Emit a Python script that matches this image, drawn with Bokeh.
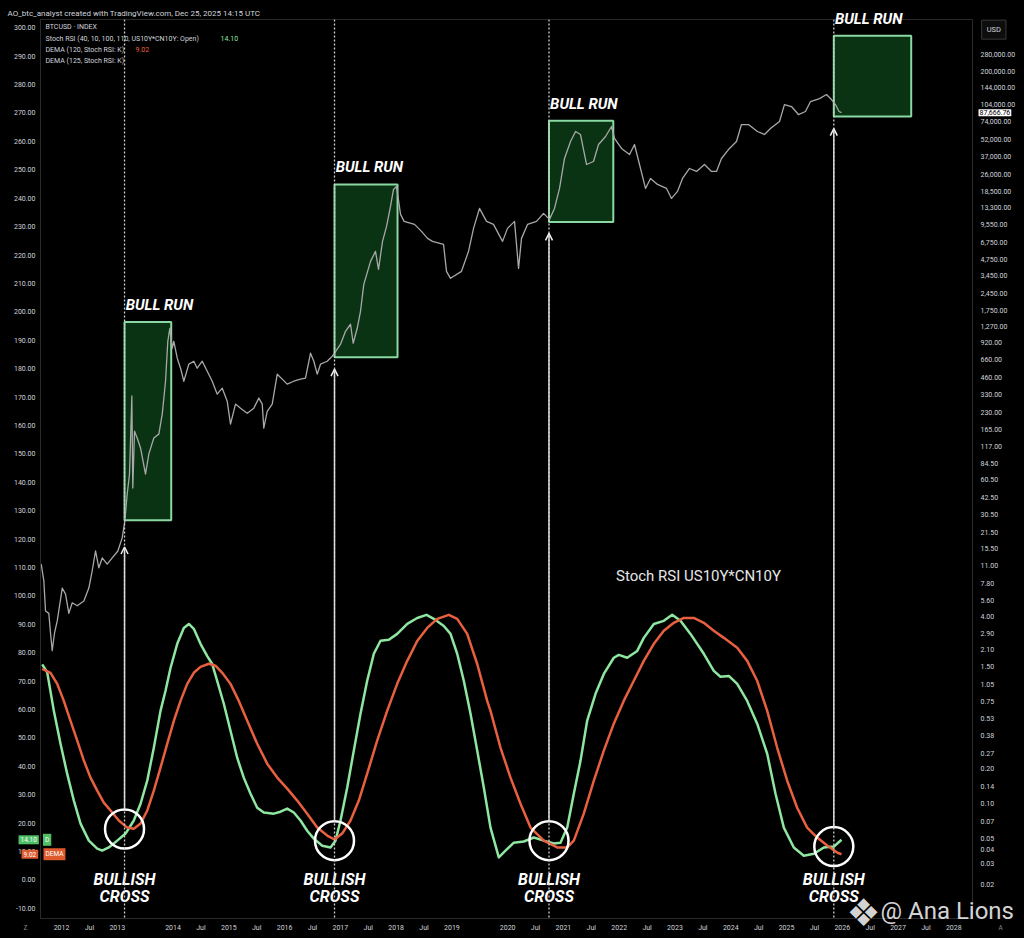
from bokeh.plotting import figure
from bokeh.models import (Range1d, LogScale, LogAxis, FixedTicker, NumeralTickFormatter,
                          Span, Label, Arrow, OpenHead)
from bokeh.core.properties import value
from bokeh.embed import file_html
from bokeh.resources import INLINE

FONT = "Roboto"
TXT = "#d1d4dc"

# ---------------- data ----------------
btc_years = [
    2011.636, 2011.683, 2011.713, 2011.772, 2011.803, 2011.833, 2011.874, 2011.923, 2012.013, 2012.072,
    2012.131, 2012.192, 2012.282, 2012.400, 2012.490, 2012.550, 2012.610, 2012.669, 2012.730, 2012.819,
    2012.909, 2013.010, 2013.088, 2013.135, 2013.178, 2013.219, 2013.237, 2013.261, 2013.278, 2013.309,
    2013.357, 2013.417, 2013.506, 2013.565, 2013.655, 2013.745, 2013.806, 2013.865, 2013.906, 2013.942,
    2013.985, 2014.014, 2014.075, 2014.134, 2014.193, 2014.283, 2014.372, 2014.433, 2014.523, 2014.613,
    2014.702, 2014.792, 2014.882, 2014.971, 2015.030, 2015.120, 2015.210, 2015.330, 2015.448, 2015.538,
    2015.599, 2015.627, 2015.688, 2015.778, 2015.868, 2015.957, 2016.047, 2016.165, 2016.285, 2016.375,
    2016.465, 2016.524, 2016.585, 2016.644, 2016.764, 2016.854, 2016.895, 2017.003, 2017.092, 2017.182,
    2017.230, 2017.302, 2017.361, 2017.420, 2017.541, 2017.630, 2017.684, 2017.756, 2017.828, 2017.899,
    2017.953, 2018.007, 2018.079, 2018.143, 2018.330, 2018.455, 2018.563, 2018.652, 2018.850, 2018.903,
    2018.975, 2019.172, 2019.298, 2019.388, 2019.495, 2019.621, 2019.746, 2019.908, 2019.997, 2020.123,
    2020.195, 2020.248, 2020.356, 2020.518, 2020.643, 2020.750, 2020.840, 2020.930, 2021.019, 2021.127,
    2021.217, 2021.306, 2021.414, 2021.539, 2021.629, 2021.755, 2021.862, 2021.916, 2022.041, 2022.185,
    2022.274, 2022.364, 2022.472, 2022.561, 2022.687, 2022.848, 2022.938, 2023.045, 2023.135, 2023.260,
    2023.386, 2023.529, 2023.655, 2023.744, 2023.834, 2023.977, 2024.103, 2024.192, 2024.318, 2024.479,
    2024.605, 2024.712, 2024.874, 2024.963, 2025.089, 2025.214, 2025.340, 2025.430, 2025.591, 2025.717,
    2025.806, 2025.878, 2025.941, 2025.986,
]
btc_prices = [
    11.4, 8.2, 4.5, 4.3, 2.9, 2.05, 2.9, 3.7, 7.1, 6.3,
    4.3, 5.3, 5.0, 5.5, 7.1, 10.0, 14.8, 10.6, 12.9, 11.4,
    12.9, 14.8, 19.2, 26.8, 45.8, 68, 131, 320, 51.5, 159,
    139, 114, 68, 101, 139, 150, 223, 428, 945, 1222,
    823, 945, 675, 554, 428, 600, 636, 554, 636, 522,
    428, 331, 373, 288, 183, 272, 251, 227, 251, 306,
    272, 169, 236, 272, 492, 446, 404, 428, 446, 455,
    746, 636, 492, 600, 636, 703, 746, 891, 1152, 1324,
    909, 1222, 1712, 2921, 4606, 5615, 3932, 6843, 9210, 13680,
    19160, 20330, 11680, 10170, 9580, 8343, 7262, 6843, 6450, 3779,
    3290, 3779, 5615, 8851, 13150, 10170, 9580, 6843, 8851, 10170,
    4011, 7262, 9580, 10170, 11910, 10580, 13150, 19540, 35380, 49550,
    60390, 56890, 31410, 33340, 46670, 54700, 66680, 52570, 43150, 38290,
    46670, 31410, 19540, 23820, 21140, 19540, 16030, 18420, 23820, 29020,
    27350, 31410, 27350, 27350, 35380, 43150, 49550, 69340, 69340, 60390,
    56890, 64120, 73620, 103000, 99050, 84530, 89770, 109400, 116000, 125600,
    113700, 103000, 89770, 87666.76,
]
btc_last = 87666.76

k_years = [
    2011.654, 2011.744, 2011.862, 2011.982, 2012.102, 2012.221, 2012.341, 2012.490, 2012.640, 2012.730,
    2012.848, 2012.999, 2013.148, 2013.296, 2013.417, 2013.537, 2013.655, 2013.775, 2013.865, 2013.954,
    2014.075, 2014.193, 2014.283, 2014.372, 2014.492, 2014.613, 2014.702, 2014.792, 2014.910, 2015.030,
    2015.150, 2015.269, 2015.389, 2015.509, 2015.627, 2015.807, 2015.927, 2016.047, 2016.165, 2016.285,
    2016.405, 2016.524, 2016.675, 2016.823, 2016.913, 2017.003, 2017.123, 2017.241, 2017.361, 2017.481,
    2017.600, 2017.720, 2017.869, 2018.019, 2018.199, 2018.378, 2018.545, 2018.676, 2018.855, 2018.975,
    2019.095, 2019.213, 2019.334, 2019.454, 2019.572, 2019.692, 2019.841, 2019.961, 2020.110, 2020.289,
    2020.469, 2020.648, 2020.827, 2020.947, 2021.068, 2021.186, 2021.306, 2021.426, 2021.575, 2021.724,
    2021.903, 2021.993, 2022.143, 2022.323, 2022.441, 2022.621, 2022.800, 2022.950, 2023.099, 2023.278,
    2023.517, 2023.696, 2023.816, 2023.965, 2024.116, 2024.295, 2024.474, 2024.654, 2024.803, 2024.952,
    2025.131, 2025.310, 2025.490, 2025.669, 2025.849, 2025.986,
]
k_values = [
    75.9, 73.0, 59.5, 47.9, 37.3, 27.9, 19.8, 13.8, 11.0, 10.3,
    11.4, 13.8, 16.3, 20.9, 26.8, 34.9, 46.5, 59.5, 66.6, 74.6,
    83.1, 88.7, 90.1, 88.4, 83.1, 78.8, 76.0, 70.0, 62.0, 52.5,
    43.0, 35.9, 30.3, 25.4, 23.7, 23.3, 24.0, 25.1, 23.7, 20.9,
    17.3, 14.5, 12.0, 11.4, 13.8, 20.9, 32.5, 45.5, 58.5, 70.1,
    79.6, 84.2, 84.5, 86.6, 90.1, 92.2, 93.3, 91.9, 89.4, 86.6,
    79.6, 70.1, 58.5, 45.5, 32.5, 18.4, 7.9, 10.3, 13.1, 13.5,
    14.9, 13.8, 12.8, 13.1, 18.4, 30.3, 41.9, 56.1, 65.5, 72.5,
    78.2, 79.2, 78.2, 80.6, 85.2, 90.1, 91.2, 93.3, 91.2, 86.6,
    79.6, 73.6, 71.5, 71.8, 69.0, 63.0, 55.0, 44.4, 30.3, 18.4,
    11.4, 8.5, 9.2, 11.4, 11.7, 14.1,
]
k_last = 14.10

dema_years = [
    2011.654, 2011.803, 2011.923, 2012.041, 2012.161, 2012.282, 2012.400, 2012.520, 2012.640, 2012.758,
    2012.879, 2013.027, 2013.178, 2013.296, 2013.417, 2013.537, 2013.655, 2013.775, 2013.895, 2014.014,
    2014.134, 2014.254, 2014.372, 2014.492, 2014.641, 2014.761, 2014.882, 2015.030, 2015.179, 2015.330,
    2015.509, 2015.688, 2015.868, 2016.047, 2016.226, 2016.405, 2016.585, 2016.764, 2016.895, 2017.033,
    2017.182, 2017.331, 2017.481, 2017.660, 2017.839, 2018.019, 2018.199, 2018.378, 2018.557, 2018.737,
    2018.945, 2019.095, 2019.274, 2019.454, 2019.633, 2019.692, 2019.872, 2020.051, 2020.230, 2020.410,
    2020.648, 2020.888, 2021.068, 2021.186, 2021.365, 2021.545, 2021.724, 2021.903, 2022.083, 2022.262,
    2022.441, 2022.621, 2022.800, 2022.979, 2023.158, 2023.338, 2023.517, 2023.696, 2023.876, 2024.116,
    2024.295, 2024.474, 2024.654, 2024.833, 2025.012, 2025.191, 2025.370, 2025.550, 2025.729, 2025.908,
    2025.986,
]
dema_values = [
    74.3, 72.9, 69.0, 63.0, 56.0, 49.0, 42.0, 36.0, 31.4, 27.2,
    24.4, 20.9, 18.4, 18.0, 19.8, 24.4, 31.4, 39.5, 47.9, 56.0,
    63.0, 69.0, 72.9, 75.0, 76.1, 75.4, 72.9, 69.0, 63.0, 56.0,
    47.9, 40.9, 36.0, 32.1, 27.9, 23.3, 18.4, 15.6, 14.2, 16.3,
    20.9, 27.9, 37.4, 49.0, 59.5, 69.0, 77.1, 84.1, 88.7, 91.9,
    93.3, 91.9, 86.6, 76.0, 63.0, 59.5, 46.5, 36.0, 26.8, 18.4,
    13.8, 11.4, 11.4, 13.8, 23.3, 34.9, 45.5, 55.0, 63.1, 70.1,
    77.1, 83.1, 87.7, 90.5, 92.2, 92.2, 90.5, 87.7, 85.2, 81.7,
    77.1, 70.1, 59.5, 46.5, 34.9, 25.4, 18.4, 14.9, 12.1, 9.6,
    9.0,
]
dema_last = 9.02

# bull-run boxes (price space) and the signal lines
signal_years = [2013.130, 2016.895, 2020.741, 2025.848]
run_right = [2013.967, 2018.025, 2021.894, 2027.236]
run_top = [1386, 21150, 74640, 403600]
run_bottom = [27.2, 689, 10030, 81250]
cross_values = [17.9, 13.8, 13.8, 11.7]
arrow_tail = [25.1, 20.9, 20.5, 18.4]
arrow_head = [117.2, 179.8, 227.6, 264.5]

osc_ticks = list(range(-10, 310, 10))
price_ticks = [0.01, 0.02, 0.03, 0.04, 0.05, 0.07, 0.10, 0.14, 0.20, 0.27, 0.38, 0.53, 0.75,
               1.05, 1.50, 2.10, 2.90, 4.00, 5.60, 7.80, 11.00, 15.50, 21.50, 30.50, 42.50,
               60.50, 84.50, 117, 165, 230, 330, 460, 660, 920, 1270, 1750, 2450, 3450,
               4750, 6750, 9550, 13300, 18500, 26000, 37000, 52000, 74000, 104000, 144000,
               200000, 280000]
year_ticks = [2012, 2012.5, 2013, 2014, 2014.5, 2015, 2015.5, 2016, 2016.5, 2017, 2017.5,
              2018, 2018.5, 2019, 2020, 2020.5, 2021, 2021.5, 2022, 2022.5, 2023, 2023.5,
              2024, 2024.5, 2025, 2025.5, 2026, 2026.5, 2027, 2027.5, 2028]
year_labels = ["2012", "Jul", "2013", "2014", "Jul", "2015", "Jul", "2016", "Jul", "2017", "Jul",
               "2018", "Jul", "2019", "2020", "Jul", "2021", "Jul", "2022", "Jul", "2023", "Jul",
               "2024", "Jul", "2025", "Jul", "2026", "Jul", "2027", "Jul", "2028"]

# ---------------- figure ----------------
p = figure(width=1024, height=938, output_backend="svg", toolbar_location=None,
           x_range=Range1d(2011.623, 2028.335), y_range=Range1d(-13.61, 302.92),
           min_border_left=40, min_border_right=52, min_border_top=19, min_border_bottom=20,
           background_fill_color="#000000", border_fill_color="#000000",
           outline_line_color="#2a2a2a")
p.extra_y_ranges = {"price": Range1d(0.01016, 555900)}
p.extra_y_scales = {"price": LogScale()}

p.title.text = "AO_btc_analyst created with TradingView.com, Dec 25, 2025 14:15 UTC"
p.title.text_font = FONT
p.title.text_font_size = "8px"
p.title.text_font_style = "normal"
p.title.text_color = TXT
p.title.align = "left"
p.title.offset = -33
p.title.standoff = 3

p.xgrid.visible = False
p.ygrid.visible = False


def style_axis(ax, standoff):
    ax.major_label_text_font = FONT
    ax.major_label_text_font_size = "7px"
    ax.major_label_text_color = TXT
    ax.major_tick_line_color = None
    ax.minor_tick_line_color = None
    ax.major_tick_out = 0
    ax.major_tick_in = 0
    ax.minor_tick_out = 0
    ax.minor_tick_in = 0
    ax.axis_line_color = "#2a2a2a"
    ax.major_label_standoff = standoff


ya = p.yaxis[0]
ya.ticker = FixedTicker(ticks=osc_ticks)
ya.formatter = NumeralTickFormatter(format="0.00")
style_axis(ya, 5)

xa = p.xaxis[0]
xa.ticker = FixedTicker(ticks=year_ticks)
xa.major_label_overrides = {t: l for t, l in zip(year_ticks, year_labels)}
style_axis(xa, 5)

ra = LogAxis(y_range_name="price", ticker=FixedTicker(ticks=price_ticks),
             formatter=NumeralTickFormatter(format="0,0.00"))
style_axis(ra, 8)
p.add_layout(ra, "right")

# bull-run boxes
p.quad(left=signal_years, right=run_right, top=run_top, bottom=run_bottom, y_range_name="price",
       fill_color="#0a3314", fill_alpha=1.0, line_color="#8ad9a2", line_width=2)

# BTC price
p.line(btc_years, btc_prices, y_range_name="price", line_color="#a8a8a8", line_width=1.3,
       line_join="round")

# oscillator lines
p.line(k_years, k_values, line_color="#8fe6a0", line_width=2.5, line_join="round")
p.line(dema_years, dema_values, line_color="#e8603f", line_width=2.5, line_join="round")

# vertical dotted signal lines and arrows
for x, t, h in zip(signal_years, arrow_tail, arrow_head):
    p.add_layout(Span(location=x, dimension="height", line_color="#cfcfcf",
                      line_dash="2 2", line_width=1.3))
    p.add_layout(Arrow(end=OpenHead(size=7, line_color="#eeeeee", line_width=1.5),
                       x_start=x, y_start=t, x_end=x, y_end=h,
                       line_color="#dcdcdc", line_width=1.5))

# cross circles
p.scatter(signal_years, cross_values, marker="circle", size=39, fill_color=None,
          line_color="#ffffff", line_width=2.5)

# BULL RUN labels just above each box (overlay level, so the last one may cross the top edge)
lift = 10 ** (17 / 116.33)
p.text(x=[x + 0.02 for x in signal_years], y=[t * lift for t in run_top],
       text=["BULL RUN"] * len(signal_years), y_range_name="price", level="overlay",
       text_font=value(FONT), text_font_size="15px", text_font_style="bold italic",
       text_color="#ffffff", text_align="left", text_baseline="alphabetic")

# BULLISH CROSS labels
for word, yy in (("BULLISH", 0.2), ("CROSS", -5.8)):
    p.text(x=signal_years, y=[yy] * len(signal_years), text=[word] * len(signal_years),
           text_font=value(FONT), text_font_size="16px", text_font_style="bold italic",
           text_color="#ffffff", text_align="center", text_baseline="alphabetic")

p.add_layout(Label(x=2023.422, y=107.1, text="Stoch RSI US10Y*CN10Y", text_font=FONT,
                   text_font_size="15px", text_color="#e6e6e6", text_align="center",
                   text_baseline="alphabetic"))

# top-left legend
legend_rows = [("BTCUSD \u00b7 INDEX", 300.2),
               ("Stoch RSI (40, 10, 100, 110, US10Y*CN10Y: Open)", 296.2),
               ("DEMA (120, Stoch RSI: K)", 292.2),
               ("DEMA (125, Stoch RSI: K)", 288.3)]
for txt, yy in legend_rows:
    p.add_layout(Label(x=2011.713, y=yy, text=txt, text_font=FONT, text_font_size="7px",
                       text_color=TXT, text_baseline="middle", text_align="left"))
p.add_layout(Label(x=2014.851, y=296.2, text=f"{k_last:.2f}", text_font=FONT,
                   text_font_size="7px", text_color="#8fe6a0", text_baseline="middle"))
p.add_layout(Label(x=2013.327, y=292.2, text=f"{dema_last:.2f}", text_font=FONT,
                   text_font_size="7px", text_color="#e8603f", text_baseline="middle"))

# last-value tags on the left scale (overlay level so they may cross the axis)
p.text(x=[2011.229, 2011.668, 2011.283, 2011.677], y=[k_last, k_last, dema_last, dema_last],
       text=[f"{k_last:.2f}", "D", f"{dema_last:.2f}", "DEMA"], level="overlay",
       text_font=value(FONT), text_font_size="6.5px", text_color="#ffffff",
       text_align="left", text_baseline="middle",
       background_fill_color=["#4fbf66", "#4fbf66", "#dd5a2e", "#dd5a2e"], padding=2)

# right-scale tags
p.text(x=[2028.443], y=[btc_last], text=["87,666.76"], y_range_name="price", level="overlay",
       text_font=value(FONT), text_font_size="7px", text_color="#000000",
       text_align="left", text_baseline="middle", background_fill_color="#ffffff", padding=1)
p.text(x=[2028.500], y=[454700], text=["USD"], y_range_name="price", level="overlay",
       text_font=value(FONT), text_font_size="7.5px", text_color=TXT,
       text_align="left", text_baseline="middle", background_fill_color="#0d0d0d",
       border_line_color="#3a3a3a", padding=5)

# chart buttons in the bottom corners
p.scatter(x=[2011.354, 2028.837], y=[-17.1, -17.1], marker="circle", size=12, level="overlay",
          fill_color="#262626", line_color="#3a3a3a")
p.text(x=[2011.354, 2028.837], y=[-17.1, -17.1], text=["Z", "A"], level="overlay",
       text_font=value(FONT), text_font_size="6.5px", text_color="#8a8a8a",
       text_align="center", text_baseline="middle")

# watermark
p.text(x=[2026.381], y=[-11.5], text=["\u2756"], level="overlay",
       text_font=value("DejaVu Sans"), text_font_size="38px", text_color="#f0f0f0",
       text_alpha=0.9, text_align="center", text_baseline="middle")
p.text(x=[2026.685], y=[-11.1], text=["@ Ana Lions"], level="overlay",
       text_font=value(FONT), text_font_size="24px", text_color="#f0f0f0",
       text_alpha=0.9, text_align="left", text_baseline="middle")

html = file_html(p, INLINE, title="BTCUSD Stoch RSI US10Y*CN10Y")
html = html.replace("</head>",
                    "<style>html, body {background-color: #000000; overflow: hidden;}</style></head>", 1)
open("out.html", "w").write(html)
